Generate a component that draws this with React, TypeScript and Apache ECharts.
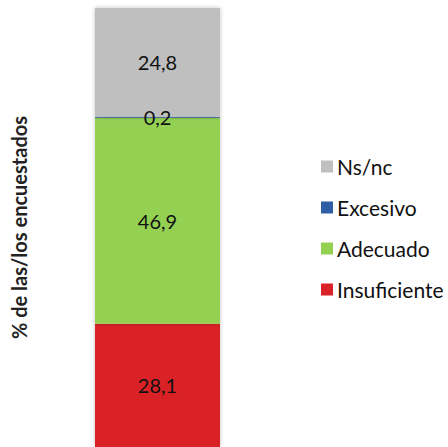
import React, { useEffect, useRef } from "react";
import * as echarts from "echarts";

const categories = ["Total"];
const seriesNames = ["Insuficiente", "Adecuado", "Excesivo", "Ns/nc"];
const insuficiente = [28.1];
const adecuado = [46.9];
const excesivo = [0.2];
const nsnc = [24.8];
const colors = ["#DA2128", "#94D152", "#2F5DA6", "#BFBFBF"];
const legendOrder = ["Ns/nc", "Excesivo", "Adecuado", "Insuficiente"];

export default function App() {
  const ref = useRef<HTMLDivElement>(null);
  useEffect(() => {
    const chart = echarts.init(ref.current!, null, { renderer: "svg" });
    const values = [insuficiente, adecuado, excesivo, nsnc];
    chart.setOption({
      animation: false,
      grid: { left: 95, width: 125, top: 8, bottom: 0 },
      xAxis: {
        type: "category",
        data: categories,
        show: false,
      },
      yAxis: {
        type: "value",
        min: 0,
        max: 100,
        axisLabel: { show: false },
        axisLine: { show: false },
        axisTick: { show: false },
        splitLine: { show: false },
        name: "% de las/los encuestados",
        nameLocation: "middle",
        nameGap: 66,
        nameTextStyle: {
          fontFamily: "Lato",
          fontWeight: "bold",
          fontSize: 20,
          color: "#222",
        },
      },
      legend: {
        orient: "vertical",
        left: 321,
        top: 156,
        padding: 0,
        itemWidth: 12,
        itemHeight: 12,
        itemGap: 20,
        icon: "rect",
        data: legendOrder,
        textStyle: {
          fontFamily: "Lato",
          fontSize: 21,
          lineHeight: 21,
          color: "#111",
          padding: [0, 0, 0, -1],
        },
      },
      series: seriesNames.map((name, i) => ({
        name,
        type: "bar",
        stack: "total",
        barWidth: "100%",
        data: values[i],
        itemStyle: {
          color: colors[i],
          shadowBlur: 4,
          shadowColor: "rgba(0,0,0,0.25)",
        },
        label: {
          show: true,
          position: "inside",
          fontFamily: "Lato",
          fontSize: 20,
          color: "#111",
          formatter: (p: any) => String(p.value).replace(".", ","),
        },
      })),
    });
    return () => chart.dispose();
  }, []);
  return <div ref={ref} style={{ width: 448, height: 447, position: "absolute", left: 0, top: 0 }} />;
}
